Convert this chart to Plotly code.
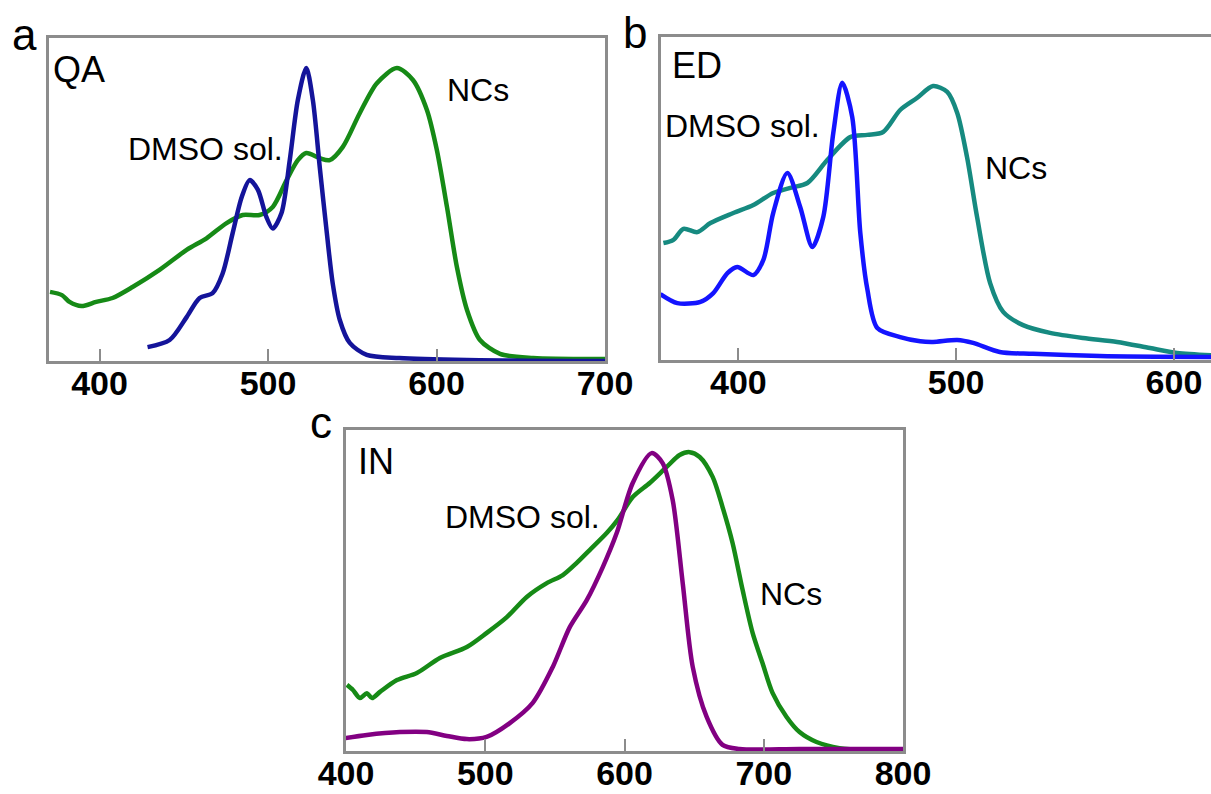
import plotly.graph_objects as go

W, H = 1211, 794

# ---------------- Panel a : QA ----------------
qa_dmso_x = [428.5, 441.6, 451.7, 459.4, 467.1, 473.0, 479.0, 484.4, 489.1, 494.0, 499.0, 502.8,
             508.0, 512.9, 517.7, 522.7, 526.6, 530.7, 534.9, 538.4, 542.6, 548.5, 558.6, 578.0,
             618.0, 701.0]
qa_dmso_y = [0.043, 0.065, 0.136, 0.195, 0.21, 0.27, 0.396, 0.508, 0.56, 0.53, 0.446, 0.41,
             0.458, 0.622, 0.808, 0.907, 0.808, 0.60, 0.396, 0.24, 0.127, 0.056, 0.019, 0.009,
             0.003, 0.0]

qa_nc_x = [370.6, 377.7, 382.2, 389.3, 398.0, 407.7, 419.6, 435.6, 451.7, 463.5, 475.4, 485.0,
           495.0, 502.8, 511.0, 517.7, 522.7, 530.7, 536.6, 544.4, 554.5, 564.6, 576.5, 586.0,
           594.3, 600.2, 606.2, 612.1, 618.1, 625.8, 637.7, 657.3, 700.0]
qa_nc_y = [0.214, 0.204, 0.183, 0.17, 0.183, 0.195, 0.229, 0.282, 0.344, 0.38, 0.427, 0.452,
           0.452, 0.477, 0.56, 0.622, 0.644, 0.628, 0.622, 0.663, 0.768, 0.86, 0.907, 0.87,
           0.777, 0.653, 0.477, 0.291, 0.158, 0.065, 0.022, 0.009, 0.006]

# ---------------- Panel b : ED ----------------
ed_dmso_x = [364.2, 372.0, 382.6, 388.5, 395.0, 399.5, 406.9, 411.5, 416.0, 422.5, 428.4, 434.0,
             439.0, 443.6, 447.7, 452.3, 456.0, 459.2, 463.8, 474.3, 483.5, 489.4, 500.5, 507.8,
             520.0, 535.3, 566.0, 617.0]
ed_dmso_y = [0.204, 0.176, 0.18, 0.207, 0.269, 0.288, 0.263, 0.31, 0.455, 0.579, 0.474, 0.35,
             0.443, 0.703, 0.858, 0.752, 0.393, 0.22, 0.099, 0.071, 0.058, 0.056, 0.062, 0.053,
             0.025, 0.019, 0.012, 0.009]

ed_nc_x = [365.6, 370.2, 374.8, 381.2, 387.2, 397.7, 406.9, 416.0, 423.9, 431.7, 440.8, 451.4,
           459.2, 466.5, 474.3, 482.0, 489.4, 495.9, 500.5, 505.0, 509.6, 515.6, 521.6, 530.7,
           543.1, 558.3, 573.9, 589.0, 601.4, 617.0]
ed_nc_y = [0.362, 0.372, 0.406, 0.396, 0.424, 0.455, 0.48, 0.517, 0.533, 0.548, 0.619, 0.69,
           0.697, 0.706, 0.774, 0.811, 0.848, 0.83, 0.765, 0.628, 0.443, 0.238, 0.149, 0.108,
           0.084, 0.068, 0.056, 0.037, 0.022, 0.015]

# ---------------- Panel c : IN ----------------
in_dmso_x = [399.3, 415.0, 438.7, 458.0, 472.4, 486.8, 501.0, 517.6, 534.1, 548.5, 560.7, 572.9,
             584.4, 594.4, 605.9, 619.5, 627.4, 634.6, 641.8, 649.0, 659.0, 670.4, 682.6, 725.7,
             800.0]
in_dmso_y = [0.04, 0.05, 0.059, 0.059, 0.047, 0.037, 0.044, 0.087, 0.15, 0.262, 0.386, 0.47,
             0.573, 0.679, 0.835, 0.928, 0.897, 0.782, 0.523, 0.262, 0.106, 0.019, 0.006, 0.006,
             0.006]

in_nc_x = [400.7, 405.0, 410.0, 415.0, 418.7, 424.4, 436.6, 450.9, 467.4, 486.8, 501.1, 515.5,
           529.8, 544.2, 555.7, 565.7, 575.0, 587.2, 595.1, 605.9, 618.1, 630.3, 639.6, 646.8,
           654.0, 663.3, 670.4, 677.6, 684.8, 692.0, 699.1, 706.3, 716.4, 725.7, 737.9, 754.4,
           773.7, 800.0]
in_nc_y = [0.206, 0.19, 0.165, 0.18, 0.165, 0.184, 0.221, 0.243, 0.29, 0.324, 0.368, 0.417,
           0.48, 0.523, 0.548, 0.586, 0.626, 0.679, 0.72, 0.791, 0.835, 0.885, 0.922, 0.931,
           0.916, 0.854, 0.76, 0.648, 0.502, 0.368, 0.274, 0.181, 0.106, 0.059, 0.028, 0.009,
           0.003, 0.003]

tick_a = [400, 500, 600, 700]
tick_b = [400, 500, 600]
tick_c = [400, 500, 600, 700, 800]

NAVY = "#14149a"
GREEN = "#168a16"
BLUE = "#1414ff"
TEAL = "#168a80"
PURPLE = "#820082"
FRAME = "#8c8c8c"
FONT = "Liberation Sans, Arial, sans-serif"


def px_x(p):
    return p / W


def px_y(p):
    return 1 - p / H


fig = go.Figure()

series = [
    (qa_nc_x, qa_nc_y, GREEN, "x", "y"),
    (qa_dmso_x, qa_dmso_y, NAVY, "x", "y"),
    (ed_nc_x, ed_nc_y, TEAL, "x2", "y2"),
    (ed_dmso_x, ed_dmso_y, BLUE, "x2", "y2"),
    (in_nc_x, in_nc_y, GREEN, "x3", "y3"),
    (in_dmso_x, in_dmso_y, PURPLE, "x3", "y3"),
]
for xs, ys, col, xa, ya in series:
    fig.add_trace(go.Scatter(x=xs, y=ys, mode="lines", xaxis=xa, yaxis=ya,
                             line=dict(color=col, width=4.5, shape="spline", smoothing=0.8),
                             showlegend=False, hoverinfo="skip", cliponaxis=False))


def xaxis_cfg(dom, rng, ticks):
    return dict(domain=dom, range=rng, tickvals=ticks, ticktext=[str(t) for t in ticks],
                ticks="inside", ticklen=12, tickwidth=2, tickcolor=FRAME,
                showline=True, linecolor=FRAME, linewidth=3, mirror=True,
                showgrid=False, zeroline=False, automargin=False, ticklabelstandoff=-10,
                tickfont=dict(family=FONT, size=34, color="black", weight="bold"))


def yaxis_cfg(dom, mirror):
    return dict(domain=dom, range=[0, 1], showticklabels=False, ticks="",
                showline=True, linecolor=FRAME, linewidth=3, mirror=mirror,
                showgrid=False, zeroline=False, automargin=False)


fig.update_layout(
    width=W, height=H, margin=dict(l=0, r=0, t=0, b=0, autoexpand=False),
    paper_bgcolor="white", plot_bgcolor="white",
    xaxis=xaxis_cfg([px_x(49), px_x(605)], [370, 700], tick_a),
    yaxis=yaxis_cfg([px_y(361), px_y(38)], True),
    xaxis2=xaxis_cfg([px_x(661), 1.0], [364.5, 617], tick_b),
    yaxis2=yaxis_cfg([px_y(360), px_y(37)], False),
    xaxis3=xaxis_cfg([px_x(346), px_x(903)], [400, 800], tick_c),
    yaxis3=yaxis_cfg([px_y(751), px_y(430)], True),
)
fig.layout.xaxis2.anchor = "y2"
fig.layout.yaxis2.anchor = "x2"
fig.layout.xaxis3.anchor = "y3"
fig.layout.yaxis3.anchor = "x3"

labels = [
    ("a", 10, 34, 44), ("QA", 51, 70, 36), ("DMSO sol.", 126, 149, 32), ("NCs", 445, 90, 32),
    ("b", 621, 33, 44), ("ED", 670, 65, 36), ("DMSO sol.", 663, 126, 32), ("NCs", 983, 168, 32),
    ("c", 308, 422, 44), ("IN", 356, 461, 36), ("DMSO sol.", 443, 517, 32), ("NCs", 758, 594, 32),
]
for txt, lx, ly, sz in labels:
    fig.add_annotation(text=txt, x=px_x(lx), y=px_y(ly), xref="paper", yref="paper",
                       xanchor="left", yanchor="middle", showarrow=False,
                       font=dict(family=FONT, size=sz, color="black"))

fig.write_html("out.html")
